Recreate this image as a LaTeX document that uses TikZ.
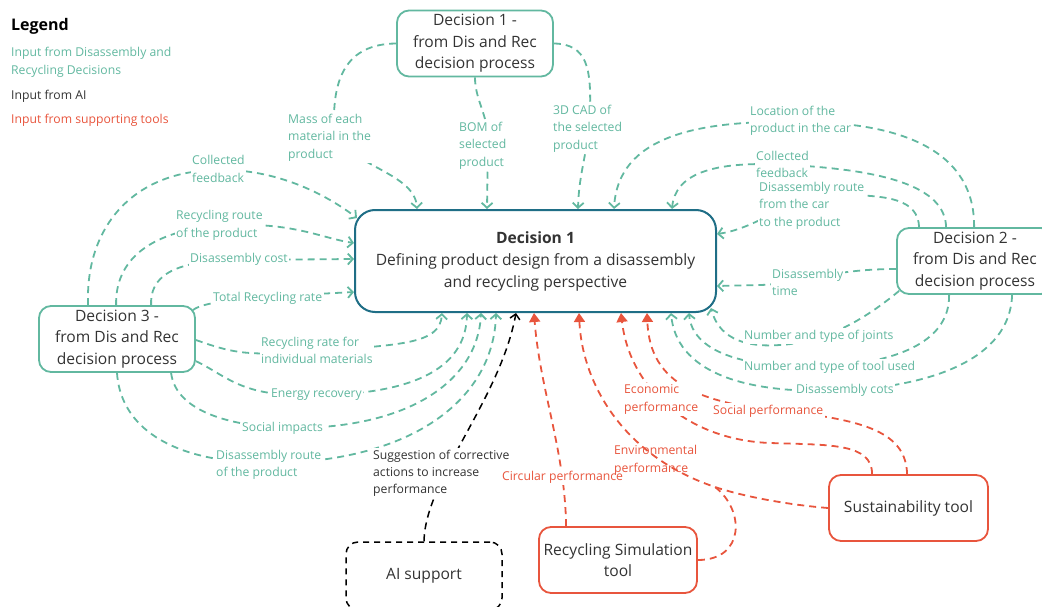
\documentclass[tikz,border=0pt]{standalone}
\usepackage{fontspec}
\setmainfont{Open Sans}
\usetikzlibrary{arrows.meta,calc}
\definecolor{dgreen}{HTML}{62B8A0}
\definecolor{dteal}{HTML}{1F6E86}
\definecolor{dred}{HTML}{E8553D}
\definecolor{dtext}{HTML}{333333}
\begin{document}
\begin{tikzpicture}[x=1pt,y=-1pt,
  box/.style={draw, fill=white, rounded corners=12pt, line width=1.8pt,
    minimum width=156pt, minimum height=66pt, align=center, text=dtext,
    font=\fontsize{15.6}{21.5}\selectfont, inner sep=0pt},
  lbl/.style={fill=white, inner sep=1.5pt, align=left, anchor=west,
    font=\fontsize{12.2}{17.5}\selectfont},
  glbl/.style={lbl, text=dgreen},
  rlbl/.style={lbl, text=dred},
  flowbase/.style={line width=1.8pt, dash pattern=on 7pt off 5pt},
  gflow/.style={flowbase, draw=dgreen, -{Straight Barb[length=5pt,width=11pt]}},
  kflow/.style={flowbase, draw=black, line width=1.5pt, -{Straight Barb[length=5pt,width=10pt]}},
  rflow/.style={flowbase, draw=dred, -{Triangle[length=9pt,width=11pt]}},
  rjoin/.style={flowbase, draw=dred},
]
\useasboundingbox (0,0) rectangle (1042,607);
\clip (0,0) rectangle (1042,607);

% ---------- legend ----------
\node[anchor=west, inner sep=0pt, font=\bfseries\fontsize{16}{18}\selectfont] (lg) at (11,26) {Legend};
\node[anchor=west, inner sep=0pt, align=left, text=dgreen, font=\fontsize{12.2}{18}\selectfont] (lg1) at (11,62) {Input from Disassembly and\\Recycling Decisions};
\node[anchor=west, inner sep=0pt, text=dtext, font=\fontsize{12.2}{18}\selectfont] (lg2) at (11,96) {Input from AI};
\node[anchor=west, inner sep=0pt, text=dred, font=\fontsize{12.2}{18}\selectfont] (lg3) at (11,120) {Input from supporting tools};

% ---------- boxes ----------
\node[draw=dteal, fill=white, rounded corners=20pt, line width=2pt, minimum width=361pt,
  minimum height=102pt, align=center, text=dtext, inner sep=0pt,
  font=\fontsize{15.6}{22}\selectfont] (c) at (535.5,261)
  {\textbf{Decision 1}\\Defining product design from a disassembly\\and recycling perspective};
\node[box, draw=dgreen] (d1) at (475,43.5) {Decision 1 -\\from Dis and Rec\\decision process};
\node[box, draw=dgreen] (d2) at (975,261) {Decision 2 -\\from Dis and Rec\\decision process};
\node[box, draw=dgreen] (d3) at (117,339) {Decision 3 -\\from Dis and Rec\\decision process};
\node[box, draw=black, dash pattern=on 6pt off 5pt, minimum height=68pt, line width=1.5pt] (ai) at (424,576) {AI support};
\node[box, draw=dred, minimum width=158pt] (rs) at (618,560) {Recycling Simulation\\tool};
\node[box, draw=dred, minimum width=159pt] (st) at (908.5,508) {Sustainability tool};

% ---------- attachment points on the central box ----------
\coordinate (ct1) at ($(c.north west)+(63,0)$);
\coordinate (ct2) at ($(c.north west)+(133,0)$);
\coordinate (ct3) at ($(c.north west)+(224,0)$);
\coordinate (ct4) at ($(c.north west)+(260,0)$);
\coordinate (ct5) at ($(c.north west)+(318,0)$);
\coordinate (cl0) at ($(c.north west)+(3,9)$);
\coordinate (cl1) at ($(c.north west)+(0,34)$);
\coordinate (cl2) at ($(c.north west)+(0,50)$);
\coordinate (cl3) at ($(c.north west)+(0,83)$);
\coordinate (cr1) at ($(c.north east)+(0,25)$);
\coordinate (cr2) at ($(c.north east)+(0,77)$);
\coordinate (cbr) at ($(c.south east)+(-6,-5)$);
\coordinate (cb1) at ($(c.south west)+(88,0)$);
\coordinate (cb2) at ($(c.south west)+(113,0)$);
\coordinate (cb3) at ($(c.south west)+(127,0)$);
\coordinate (cb4) at ($(c.south west)+(142,0)$);
\coordinate (cb5) at ($(c.south west)+(162,0)$);
\coordinate (cb6) at ($(c.south west)+(180,0)$);
\coordinate (cb7) at ($(c.south west)+(225,0)$);
\coordinate (cb8) at ($(c.south west)+(267,0)$);
\coordinate (cb9) at ($(c.south west)+(293,0)$);
\coordinate (cb10) at ($(c.south west)+(317,0)$);
\coordinate (cb11) at ($(c.south west)+(335,0)$);
\coordinate (envj) at (715,487);

% ---------- inputs from Decision 1 ----------
\draw[gflow] (d1.west) .. controls (345,44) and (333,80) .. (334,125)
  .. controls (338,165) and (415,170) .. (ct1);
\draw[gflow] (d1.south) .. controls (475,100) and (488,115) .. (488,140) -- (ct2);
\draw[gflow] (d1.east) .. controls (588,44) and (591,70) .. (590,110)
  .. controls (589,150) and (579,170) .. (ct3);

% ---------- inputs from Decision 2 ----------
\draw[gflow] ($(d2.north west)+(78,0)$) .. controls (975,150) and (900,122) .. (800,122)
  .. controls (700,120) and (618,135) .. (ct4);
\draw[gflow] ($(d2.north west)+(50,0)$) .. controls (945,185) and (880,170) .. (790,165)
  .. controls (710,160) and (675,175) .. (ct5);
\draw[gflow] ($(d2.north west)+(23,0)$) .. controls (918,200) and (890,195) .. (840,195)
  .. controls (790,195) and (760,228) .. (cr1);
\draw[gflow] ($(d2.west)+(0,8)$) .. controls (830,269) and (800,284) .. (760,285) -- (cr2);
\draw[gflow] ($(d2.south west)+(3,-4)$) .. controls (870,315) and (830,342) .. (780,345)
  .. controls (740,348) and (718,335) .. (cbr);
\draw[gflow] ($(d2.south west)+(53,0)$) .. controls (950,340) and (900,362) .. (830,366)
  .. controls (740,370) and (692,350) .. (cb11);
\draw[gflow] ($(d2.south west)+(116,0)$) .. controls (1010,360) and (930,385) .. (850,390)
  .. controls (740,396) and (676,370) .. (cb10);

% ---------- inputs from Decision 3 ----------
\draw[gflow] ($(d3.north west)+(50,0)$) .. controls (85,230) and (130,172) .. (215,170)
  .. controls (270,168) and (320,190) .. (cl0);
\draw[gflow] ($(d3.north west)+(78,0)$) .. controls (115,260) and (150,232) .. (215,226)
  .. controls (290,220) and (320,238) .. (cl1);
\draw[gflow] ($(d3.north west)+(113,0)$) .. controls (150,278) and (170,260) .. (240,260) -- (cl2);
\draw[gflow] ($(d3.north east)+(-3,5)$) .. controls (205,300) and (260,297) .. (cl3);
\draw[gflow] ($(d3.east)+(0,1)$) .. controls (230,352) and (245,356) .. (300,352)
  .. controls (400,345) and (440,345) .. (cb1);
\draw[gflow] ($(d3.north east)+(0,56)$) .. controls (225,375) and (240,395) .. (300,395)
  .. controls (410,397) and (466,370) .. (cb2);
\draw[gflow] ($(d3.south west)+(133,0)$) .. controls (175,405) and (215,425) .. (285,428)
  .. controls (410,430) and (478,380) .. (cb3);
\draw[gflow] (d3.south) .. controls (120,420) and (160,460) .. (260,463)
  .. controls (410,465) and (494,400) .. (cb4);

% ---------- input from AI ----------
\draw[kflow] (ai.north) .. controls (425,480) and (500,400) .. (cb5);

% ---------- inputs from supporting tools ----------
\draw[rflow] ($(rs.north west)+(28,0)$) .. controls (565,450) and (540,390) .. (cb6);
\draw[rflow] (rs.east) .. controls (745,560) and (745,510) .. (envj)
  .. controls (620,455) and (582,380) .. (cb7);
\draw[rjoin] (st.west) .. controls (790,505) and (745,497) .. (envj);
\draw[rflow] ($(st.north west)+(44,0)$) .. controls (872,443) and (830,445) .. (770,443)
  .. controls (690,440) and (630,390) .. (cb8);
\draw[rflow] ($(st.north west)+(79,0)$) .. controls (906,435) and (870,422) .. (800,413)
  .. controls (700,405) and (650,385) .. (cb9);

% ---------- connector labels ----------
\node[glbl] (l1) at (286.5,137.5) {Mass of each\\material in the\\product};
\node[glbl] (l2) at (457.5,145.5) {BOM of\\selected\\product};
\node[glbl] (l3) at (551.5,128.5) {3D CAD of\\the selected\\product};
\node[glbl] (l4) at (748.5,121) {Location of the\\product in the car};
\node[glbl] (l5) at (754.5,164.5) {Collected\\feedback};
\node[glbl] (l6) at (757.5,205.5) {Disassembly route\\from the car\\to the product};
\node[glbl] (l7) at (770.5,282.5) {Disassembly\\time};
\node[glbl] (l8) at (742.5,336) {Number and type of joints};
\node[glbl] (l9) at (742.5,367) {Number and type of tool used};
\node[glbl] (l10) at (794.5,390) {Disassembly cots};
\node[glbl] (l11) at (190.5,169) {Collected\\feedback};
\node[glbl] (l12) at (174.5,225.5) {Recycling route\\of the product};
\node[glbl] (l13) at (188.5,259) {Disassembly cost};
\node[glbl] (l14) at (211.5,298) {Total Recycling rate};
\node[glbl] (l15) at (259.5,350.5) {Recycling rate for\\individual materials};
\node[glbl] (l16) at (269.5,395) {Energy recovery};
\node[glbl] (l17) at (240.5,428) {Social impacts};
\node[glbl] (l18) at (214.5,465) {Disassembly route\\of the product};
\node[lbl, text=dtext, font=\fontsize{12.2}{17}\selectfont] (l19) at (371.5,473) {Suggestion of corrective\\actions to increase\\performance};
\node[rlbl] (l20) at (500.5,477) {Circular performance};
\node[rlbl, fill=none] (l21) at (612.5,460.5) {Environmental\\performance};
\node[rlbl] (l22) at (622.5,399.5) {Economic\\performance};
\node[rlbl] (l23) at (711.5,411) {Social performance};
\end{tikzpicture}
\end{document}
